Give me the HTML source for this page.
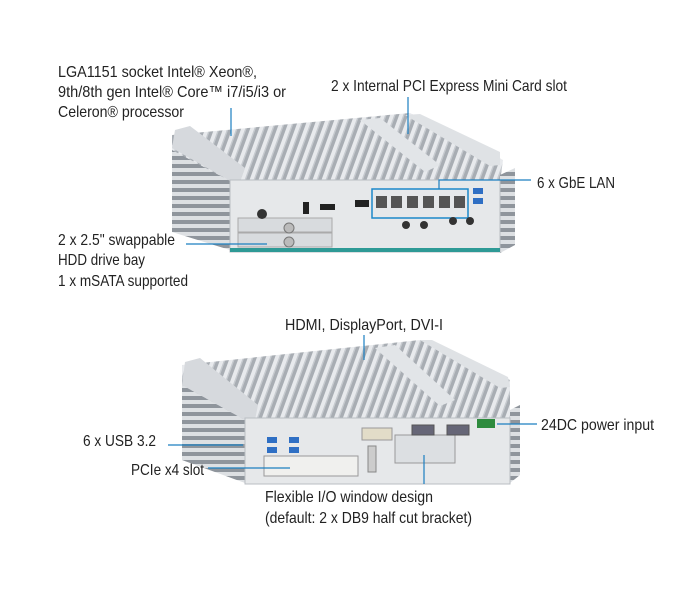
<!DOCTYPE html>
<html><head><meta charset="utf-8"><style>
html,body{margin:0;padding:0;background:#fff}
svg{display:block}
text{font-family:"Liberation Sans",sans-serif;font-size:16px;fill:#222}
</style></head><body>
<svg width="693" height="597" viewBox="0 0 693 597" xmlns="http://www.w3.org/2000/svg">
<defs>
<pattern id="fins" width="9" height="10" patternUnits="userSpaceOnUse" patternTransform="skewX(-20)">
<rect width="9" height="10" fill="#a8adb3"/><rect width="4" height="10" fill="#e8eaed"/><rect x="4" width="1.5" height="10" fill="#c6cacf"/>
</pattern>
<pattern id="sfins" width="10" height="8" patternUnits="userSpaceOnUse">
<rect width="10" height="8" fill="#8f959c"/><rect width="10" height="4" fill="#dde0e3"/>
</pattern>
</defs>

<!-- Device 1 -->
<polygon points="172,140 230,170 230,250 172,232" fill="url(#sfins)"/>
<polygon points="172,135 410,113 503,160 500,182 232,182 172,150" fill="url(#fins)"/>
<polygon points="175,130 190,126 245,168 240,182 232,182 172,148" fill="#d6d9dd"/>
<polygon points="405,115 420,114 500,152 500,165 490,166" fill="#dfe2e5"/>
<polygon points="360,120 380,118 440,165 425,172" fill="#e2e5e8"/>
<polygon points="500,175 515,168 515,245 500,253" fill="url(#sfins)"/>
<rect x="230" y="180" width="270" height="72" fill="#e6e8ea" stroke="#b9bec3"/>
<rect x="230" y="248" width="270" height="4" fill="#2e9a96"/>
<rect x="238" y="218" width="94" height="14" fill="#d8dbde" stroke="#aaa"/>
<rect x="238" y="233" width="94" height="14" fill="#d8dbde" stroke="#aaa"/>
<circle cx="289" cy="228" r="5" fill="#bbb" stroke="#777"/>
<circle cx="289" cy="242" r="5" fill="#bbb" stroke="#777"/>
<circle cx="262" cy="214" r="5" fill="#333"/>
<rect x="320" y="204" width="15" height="6" fill="#222"/>
<rect x="355" y="200" width="14" height="7" fill="#222"/>
<rect x="303" y="202" width="6" height="12" fill="#222"/>
<rect x="372" y="189" width="96" height="29" fill="none" stroke="#1c88c9" stroke-width="1.5"/>
<g fill="#555"><rect x="376" y="196" width="11" height="12"/><rect x="391" y="196" width="11" height="12"/><rect x="407" y="196" width="11" height="12"/><rect x="423" y="196" width="11" height="12"/><rect x="439" y="196" width="11" height="12"/><rect x="454" y="196" width="11" height="12"/></g>
<rect x="473" y="188" width="10" height="6" fill="#2f6fc4"/><rect x="473" y="198" width="10" height="6" fill="#2f6fc4"/>
<g fill="#333"><circle cx="406" cy="225" r="4"/><circle cx="424" cy="225" r="4"/><circle cx="453" cy="221" r="4"/><circle cx="470" cy="221" r="4"/></g>

<!-- Device 2 -->
<polygon points="182,380 245,410 245,483 182,460" fill="url(#sfins)"/>
<polygon points="182,365 420,340 510,380 510,420 245,420 182,385" fill="url(#fins)"/>
<polygon points="185,362 200,358 258,405 255,420 245,420 182,385" fill="#d6d9dd"/>
<polygon points="420,340 432,340 508,377 510,387 500,388" fill="#dfe2e5"/>
<polygon points="375,348 395,345 455,400 440,406" fill="#e2e5e8"/>
<polygon points="510,410 520,405 520,475 510,483" fill="url(#sfins)"/>
<rect x="245" y="418" width="265" height="66" fill="#e6e8ea" stroke="#b9bec3"/>
<g fill="#2f6fc4"><rect x="267" y="437" width="10" height="6"/><rect x="267" y="447" width="10" height="6"/><rect x="289" y="437" width="10" height="6"/><rect x="289" y="447" width="10" height="6"/></g>
<rect x="264" y="456" width="94" height="20" fill="#f0f0ee" stroke="#999"/>
<rect x="368" y="446" width="8" height="26" fill="#ccc" stroke="#888"/>
<rect x="395" y="435" width="60" height="28" fill="#dcdfe2" stroke="#999"/>
<rect x="362" y="428" width="30" height="12" fill="#e2dcc8" stroke="#999"/>
<rect x="412" y="425" width="22" height="10" fill="#667" stroke="#555"/>
<rect x="447" y="425" width="22" height="10" fill="#667" stroke="#555"/>
<rect x="477" y="419" width="18" height="9" fill="#2e8b3e"/>

<!-- Leader lines -->
<g stroke="#1c7fc0" stroke-width="1.2" fill="none">
<line x1="231" y1="108" x2="231" y2="136"/>
<line x1="408" y1="97" x2="408" y2="134"/>
<polyline points="531,180 439,180 439,189"/>
<line x1="186" y1="244" x2="267" y2="244"/>
<line x1="364" y1="335" x2="364" y2="360"/>
<line x1="497" y1="424" x2="537" y2="424"/>
<line x1="168" y1="445" x2="243" y2="445"/>
<line x1="208" y1="468" x2="290" y2="468"/>
<line x1="424" y1="455" x2="424" y2="484"/>
</g>

<!-- Labels -->
<g>
<text x="58" y="77" textLength="199" lengthAdjust="spacingAndGlyphs">LGA1151 socket Intel® Xeon®,</text>
<text x="58" y="97" textLength="228" lengthAdjust="spacingAndGlyphs">9th/8th gen Intel® Core™ i7/i5/i3 or</text>
<text x="58" y="117" textLength="126" lengthAdjust="spacingAndGlyphs">Celeron® processor</text>
<text x="331" y="91" textLength="236" lengthAdjust="spacingAndGlyphs">2 x Internal PCI Express Mini Card slot</text>
<text x="537" y="188" textLength="78" lengthAdjust="spacingAndGlyphs">6 x GbE LAN</text>
<text x="58" y="245" textLength="117" lengthAdjust="spacingAndGlyphs">2 x 2.5" swappable</text>
<text x="58" y="265" textLength="87" lengthAdjust="spacingAndGlyphs">HDD drive bay</text>
<text x="58" y="286" textLength="130" lengthAdjust="spacingAndGlyphs">1 x mSATA supported</text>
<text x="285" y="330" textLength="158" lengthAdjust="spacingAndGlyphs">HDMI, DisplayPort, DVI-I</text>
<text x="541" y="430" textLength="113" lengthAdjust="spacingAndGlyphs">24DC power input</text>
<text x="83" y="446" textLength="73" lengthAdjust="spacingAndGlyphs">6 x USB 3.2</text>
<text x="131" y="475" textLength="73" lengthAdjust="spacingAndGlyphs">PCIe x4 slot</text>
<text x="265" y="502" textLength="168" lengthAdjust="spacingAndGlyphs">Flexible I/O window design</text>
<text x="265" y="523" textLength="207" lengthAdjust="spacingAndGlyphs">(default: 2 x DB9 half cut bracket)</text>
</g>
</svg>
</body></html>
